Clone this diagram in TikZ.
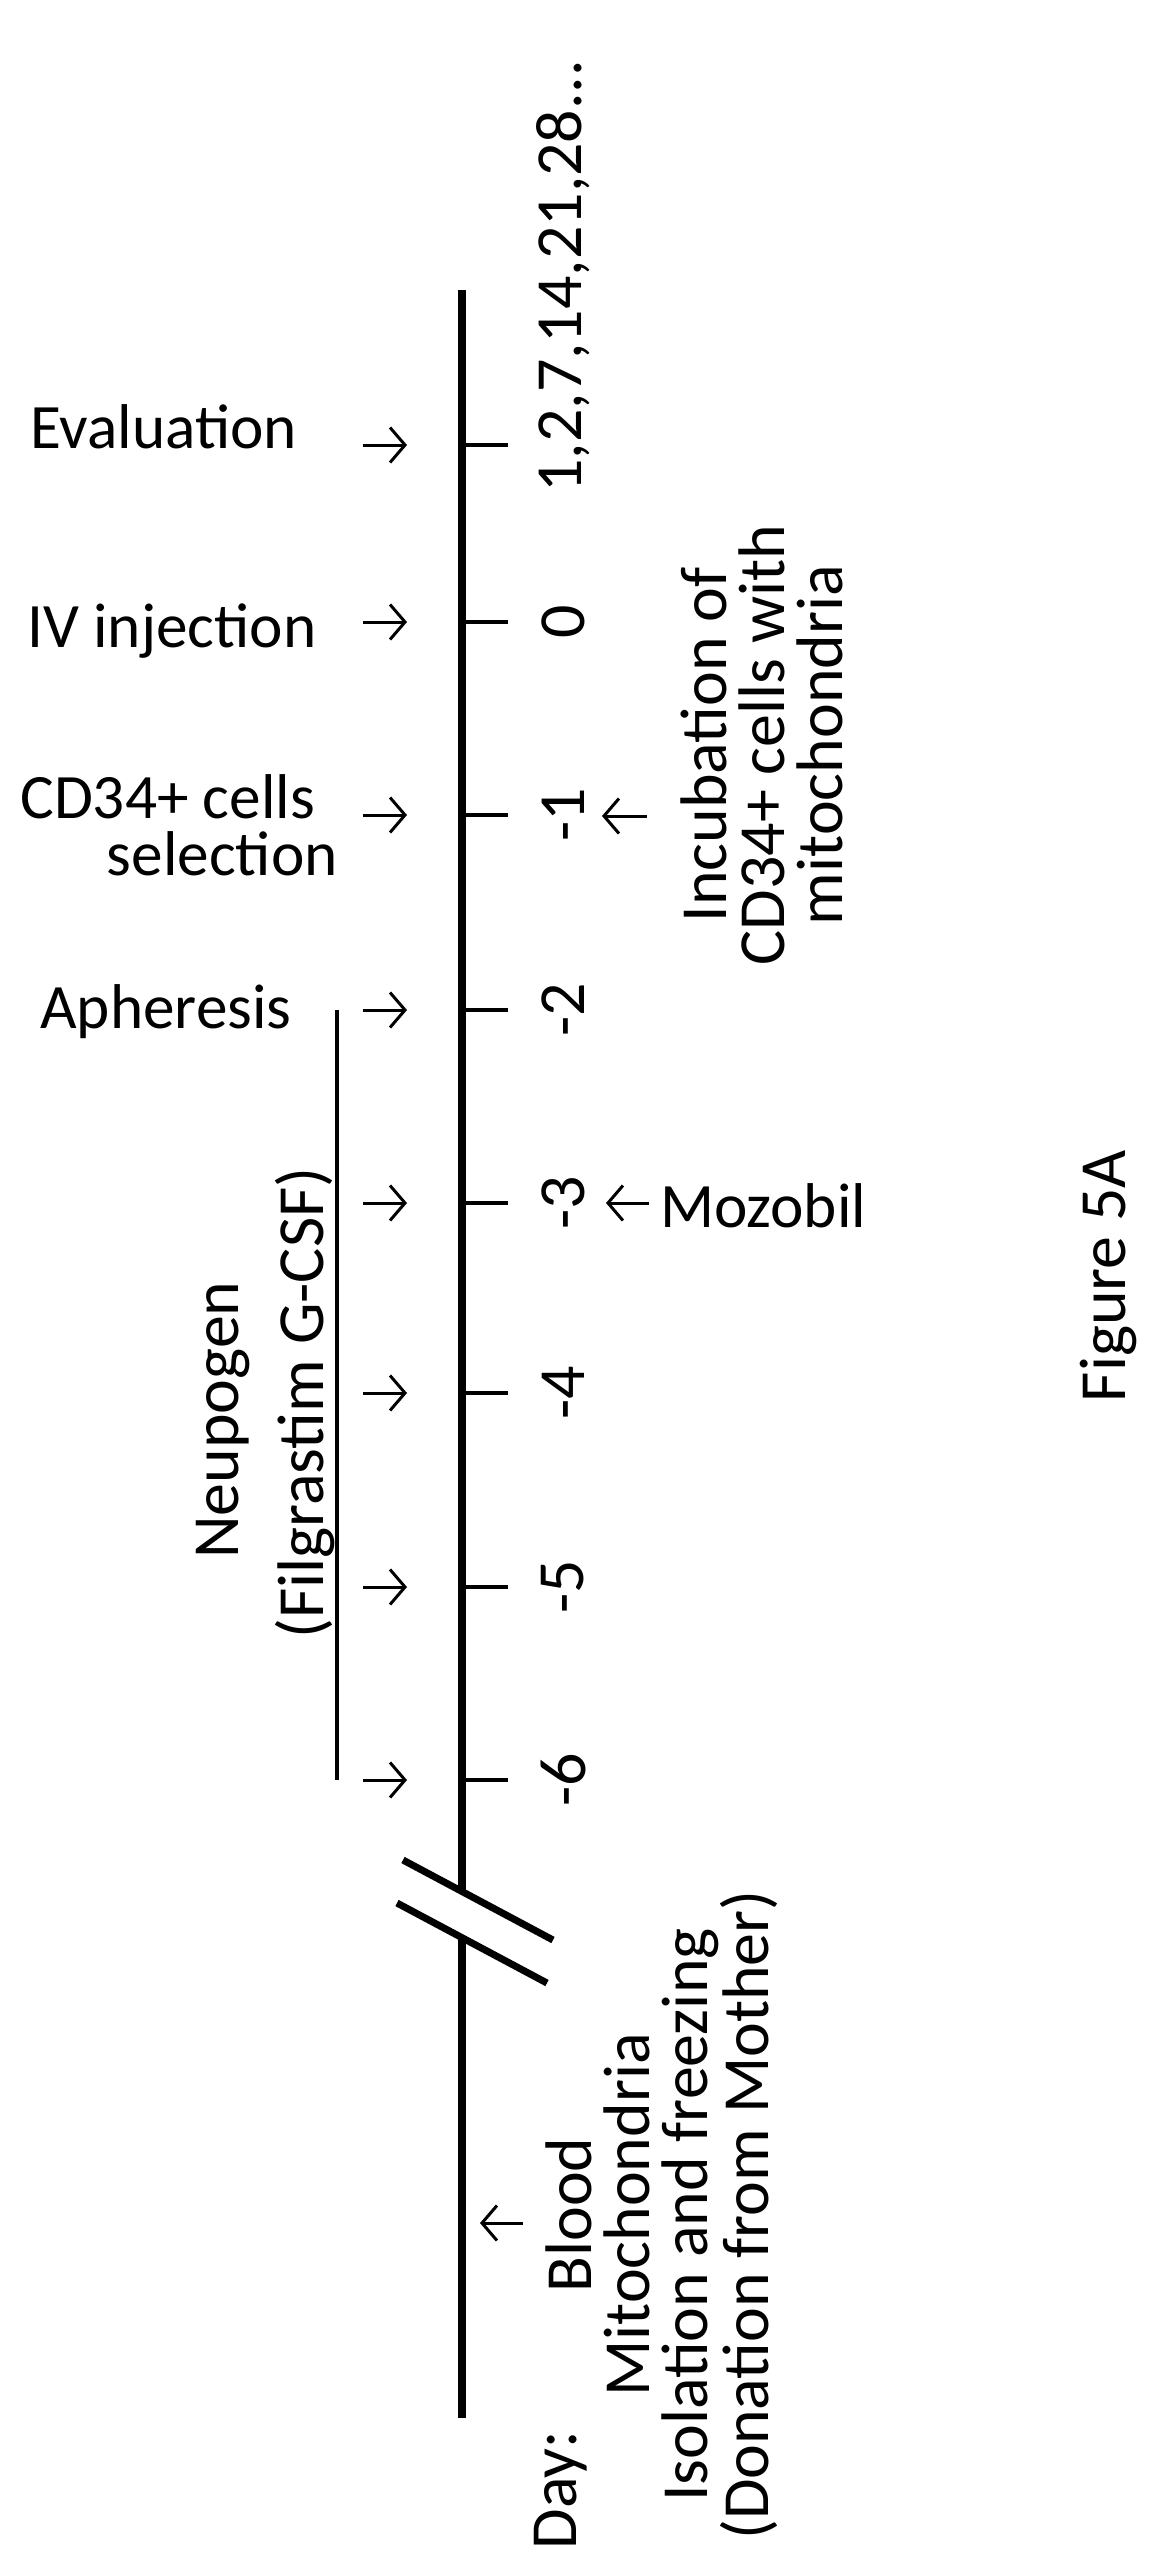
\documentclass[tikz,border=0pt]{standalone}
\usepackage{fontspec}
\setmainfont{Carlito}
\usetikzlibrary{arrows.meta,calc}

\begin{document}
\begin{tikzpicture}[x=0.02cm,y=-0.02cm,
    axis/.style={line width=4.5pt},
    tickmark/.style={line width=2.2pt},
    pointer/.style={line width=1.7pt,-{Straight Barb[length=0.3cm,width=0.7cm,line width=1.7pt]}},
    flat/.style={font=\fontsize{36}{42}\selectfont},
    upright/.style={rotate=90,font=\fontsize{37.5}{33}\selectfont,align=center,inner sep=0pt}]
  \useasboundingbox (0,0) rectangle (1166,2573);
  % time axis with break
  \coordinate (top) at (462,290);
  \coordinate (brkA) at (462,1891);
  \coordinate (brkB) at (462,1938);
  \coordinate (bot) at (462,2418);
  \draw[axis] (top) -- (brkA);
  \draw[axis] (brkB) -- (bot);
  \draw[line width=4pt] (403,1860) -- (553,1940);
  \draw[line width=4pt] (397,1903) -- (547,1983);
  % ticks, day numbers and arrows
  \foreach \i/\y/\d in {2/622/0,3/815/-1,4/1010/-2,5/1203/-3,6/1393/-4,7/1587/-5,8/1780/-6}{
    \coordinate (t\i) at (462,\y);
    \draw[tickmark] (t\i) -- ++(46,0);
    \node[upright] (d\i) at (563,\y) {\d};
  }
  \coordinate (t1) at (462,445);
  \draw[tickmark] (t1) -- ++(46,0);
  \node[upright,anchor=west] (d1) at (563,493) {1,2,7,14,21,28...};
  \foreach \i in {1,...,8}{
    \coordinate (a\i) at ($(t\i)+(-99,0)$);
    \coordinate (b\i) at ($(t\i)+(-55,0)$);
    \draw[pointer] (a\i) -- (b\i);
  }
  % events
  \node[flat,anchor=base west,inner sep=0pt] (eval) at (30,448) {Evaluation};
  \node[flat,anchor=base west,inner sep=0pt] (iv) at (27,647) {IV injection};
  \node[flat,anchor=base west,inner sep=0pt] (cd) at (20,818) {CD34+ cells};
  \node[flat,anchor=base east,inner sep=0pt] (sel) at (338,875) {selection};
  \node[flat,anchor=base west,inner sep=0pt] (aph) at (40,1028) {Apheresis};
  % Neupogen period
  \coordinate (neuA) at (337,1010);
  \coordinate (neuB) at (337,1780);
  \draw[line width=2.8pt] (neuA) -- (neuB);
  \node[upright,anchor=south] (neu) at (250,1420) {Neupogen};
  \node[upright,anchor=south] (fil) at (335,1403) {(Filgrastim G-CSF)};
  % right side notes
  \coordinate (incA) at (647,816);
  \coordinate (incB) at (602,816);
  \draw[pointer] (incA) -- (incB);
  \node[upright] (inc) at (762,745) {Incubation of\\CD34+ cells with\\mitochondria};
  \coordinate (mozA) at (649,1203);
  \coordinate (mozB) at (606,1203);
  \draw[pointer] (mozA) -- (mozB);
  \node[flat,anchor=west,inner sep=0pt] (moz) at (660,1206) {Mozobil};
  % bottom
  \coordinate (bldA) at (523,2223);
  \coordinate (bldB) at (480,2223);
  \draw[pointer] (bldA) -- (bldB);
  \node[upright] (bld) at (662,2215) {Blood\\Mitochondria\\Isolation and freezing\\(Donation from Mother)};
  \node[upright] (day) at (561,2490) {Day:};
  \node[upright] (fig) at (1108,1276) {Figure 5A};
\end{tikzpicture}
\end{document}
